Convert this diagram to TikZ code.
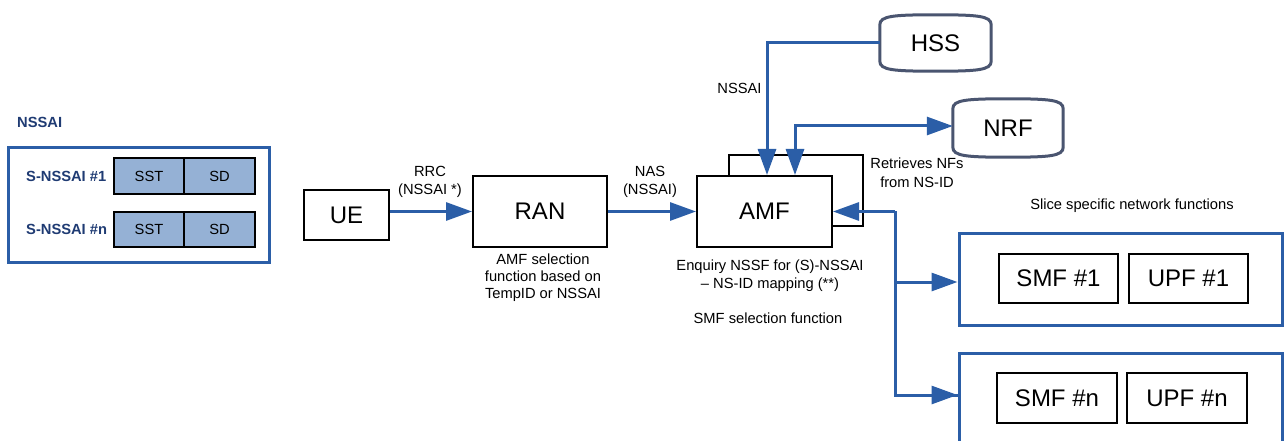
\documentclass[tikz,border=0pt]{standalone}
\usepackage{fontspec}
\setmainfont{Liberation Sans}
\usetikzlibrary{arrows.meta,calc}
\definecolor{lblue}{HTML}{2B5EA7}
\definecolor{navy}{HTML}{1F3B73}
\definecolor{fillb}{HTML}{95B1D5}
\definecolor{drumc}{HTML}{4A5570}
\newcommand\fbig{\fontsize{24}{28}\selectfont}
\newcommand\fsmall{\fontsize{14.7}{18}\selectfont}
\newcommand\fsmallb{\fontsize{14.7}{18}\selectfont\bfseries}
\begin{document}
\begin{tikzpicture}[x=1pt,y=-1pt,
  box/.style={draw=black, line width=2pt, fill=white, inner sep=0pt, font=\fbig},
  cont/.style={draw=lblue, line width=3pt, inner sep=0pt},
  fld/.style={draw=black, line width=1.5pt, fill=fillb, font=\fsmall, inner sep=0pt},
  conn/.style={draw=lblue, line width=3pt},
  arr/.style={conn, -{Triangle[length=26pt,width=18pt]}},
  arrb/.style={conn, {Triangle[length=26pt,width=18pt]}-{Triangle[length=26pt,width=18pt]}},
  lbl/.style={font=\fsmall, align=center, inner sep=0pt},
  drumtext/.style={font=\fbig, inner sep=0pt},
  drum/.style={draw=drumc, line width=3pt, fill=white}
]
\useasboundingbox (0,0) rectangle (1286,441);
\clip (0,0) rectangle (1286,441);

% NSSAI structure
\node[font=\fsmallb, text=navy, anchor=west, inner sep=0pt] (nssaititle) at (17,122) {NSSAI};
\node[cont, minimum width=261pt, minimum height=114pt] (nssaibox) at (138.5,205) {};
\node[font=\fsmallb, text=navy, anchor=west, inner sep=0pt] (sn1) at (26,176) {S-NSSAI \#1};
\node[font=\fsmallb, text=navy, anchor=west, inner sep=0pt] (snn) at (26,229.5) {S-NSSAI \#n};
\node[fld, minimum width=70pt, minimum height=36pt] (sst1) at (149,176) {SST};
\node[fld, minimum width=71pt, minimum height=36pt] (sd1) at (219.5,176) {SD};
\node[fld, minimum width=70pt, minimum height=35pt] (sstn) at (149,229.5) {SST};
\node[fld, minimum width=71pt, minimum height=35pt] (sdn) at (219.5,229.5) {SD};

% main chain
\node[box, minimum width=85pt, minimum height=50pt] (ue) at (346.5,215) {UE};
\node[box, minimum width=134pt, minimum height=71pt] (ran) at (540,211.5) {RAN};
\node[box, minimum width=134pt, minimum height=71pt] (amfback) at (796,190.5) {};
\node[box, minimum width=135pt, minimum height=71pt] (amf) at (764.5,211.5) {AMF};

\draw[arr] (ue.east |- ran.west) -- (ran.west);
\draw[arr] (ran.east) -- (amf.west);

\node[lbl] (rrc) at (430,182) {RRC\\(NSSAI *)};
\node[lbl] (nas) at (650,182) {NAS\\(NSSAI)};
\node[lbl, font=\fontsize{14.7}{17}\selectfont] (amfsel) at (543,278) {AMF selection\\function based on\\TempID or NSSAI};
\node[lbl] (enq) at (770,276) {Enquiry NSSF for (S)-NSSAI\\– NS-ID mapping (**)};
\node[lbl] (smfsel) at (768,318) {SMF selection function};
\node[lbl, font=\fontsize{14.7}{19}\selectfont] (retr) at (917,172.5) {Retrieves NFs\\from NS-ID};

% HSS and NRF
\node[drumtext, minimum width=111pt, minimum height=56pt] (hss) at (935.5,43) {};
\draw[drum] ($(hss.north west)+(0,10)$) -- ($(hss.south west)+(0,-10)$)
  .. controls ($(hss.south west)+(0,-1)$) and ($(hss.south west)+(14,0)$) .. (hss.south)
  .. controls ($(hss.south east)+(-14,0)$) and ($(hss.south east)+(0,-1)$) .. ($(hss.south east)+(0,-10)$)
  -- ($(hss.north east)+(0,10)$)
  .. controls ($(hss.north east)+(0,1)$) and ($(hss.north east)+(-14,0)$) .. (hss.north)
  .. controls ($(hss.north west)+(14,0)$) and ($(hss.north west)+(0,1)$) .. cycle;
\node[drumtext] at (hss) {HSS};

\node[drumtext, minimum width=110pt, minimum height=58pt] (nrf) at (1008,128) {};
\draw[drum] ($(nrf.north west)+(0,10)$) -- ($(nrf.south west)+(0,-10)$)
  .. controls ($(nrf.south west)+(0,-1)$) and ($(nrf.south west)+(14,0)$) .. (nrf.south)
  .. controls ($(nrf.south east)+(-14,0)$) and ($(nrf.south east)+(0,-1)$) .. ($(nrf.south east)+(0,-10)$)
  -- ($(nrf.north east)+(0,10)$)
  .. controls ($(nrf.north east)+(0,1)$) and ($(nrf.north east)+(-14,0)$) .. (nrf.north)
  .. controls ($(nrf.north west)+(14,0)$) and ($(nrf.north west)+(0,1)$) .. cycle;
\node[drumtext] at (nrf) {NRF};

\draw[arr] (hss.west) -| ($(amf.north west)+(71,0)$);
\node[lbl] (hsslbl) at (739.5,88) {NSSAI};
\draw[arrb] ($(amf.north west)+(99,0)$) |- ([yshift=2pt]nrf.west);

% slices
\node[lbl] (slicetitle) at (1132,206) {Slice specific network functions};
\node[cont, minimum width=323pt, minimum height=92pt] (slice1) at (1120.5,279) {};
\node[cont, minimum width=323pt, minimum height=92pt] (slicen) at (1120.5,399) {};
\node[box, minimum width=119pt, minimum height=49pt] (smf1) at (1058.5,278.5) {SMF \#1};
\node[box, minimum width=119pt, minimum height=49pt] (upf1) at (1188.5,278.5) {UPF \#1};
\node[box, minimum width=120pt, minimum height=50pt] (smfn) at (1057,398) {SMF \#n};
\node[box, minimum width=120pt, minimum height=50pt] (upfn) at (1187,398) {UPF \#n};

\coordinate (junc) at ($(amf.east)+(62,0)$);
\draw[arr] (junc) -- (amf.east);
\draw[conn] (junc) |- ([yshift=4pt]slicen.west);
\draw[arr] (junc |- 0,282) -- ([yshift=-3pt]slice1.west);
\draw[arr] (junc |- 0,395) -- ([yshift=4pt]slicen.west);
\end{tikzpicture}
\end{document}
